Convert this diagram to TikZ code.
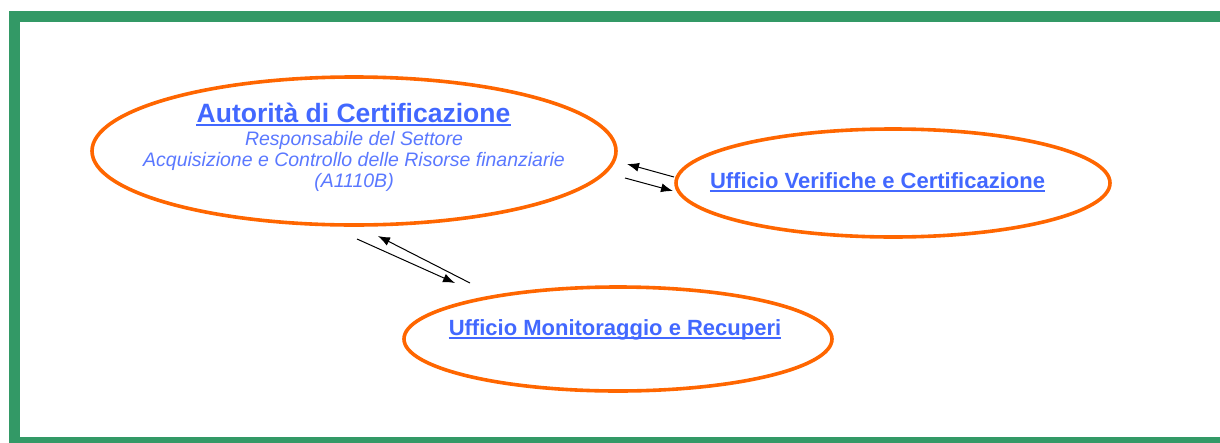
\documentclass[tikz,border=0pt]{standalone}
\usepackage{fontspec}
\setmainfont{Liberation Sans}
\usetikzlibrary{shapes.geometric,arrows.meta}
\definecolor{framegreen}{RGB}{51,153,102}
\definecolor{ora}{RGB}{255,102,0}
\definecolor{lnk}{RGB}{66,104,255}
\definecolor{sublnk}{RGB}{90,120,255}
\begin{document}
\begin{tikzpicture}[x=1pt,y=-1pt,
  oval/.style={ellipse, draw=ora, line width=3.6pt, inner sep=0pt},
  linktext/.style={text=lnk, font=\bfseries\fontsize{22}{26}\selectfont, inner sep=0pt, anchor=base},
  subtext/.style={text=sublnk, font=\itshape\fontsize{19.5}{21}\selectfont, inner sep=0pt, anchor=base},
  uline/.style={draw=lnk, line width=1.5pt},
  flow/.style={line width=1pt, -{Latex[length=12pt,width=9pt]}}]
\useasboundingbox (0,0) rectangle (1220,442);
\clip (0,0) rectangle (1220,442);
% frame
\draw[framegreen, line width=11pt] (14.5,16.5) -- (1240,16.5);
\draw[framegreen, line width=11pt] (14.5,11) -- (14.5,442.5) -- (1240,442.5);
% ellipses
\node[oval, minimum width=524pt, minimum height=148pt] (ac) at (354,151) {};
\node[oval, minimum width=434pt, minimum height=108pt] (uv) at (893,183) {};
\node[oval, minimum width=428pt, minimum height=104pt] (um) at (618,339) {};
% texts
\node[linktext, font=\bfseries\fontsize{26.5}{30}\selectfont] (t1) at (353.5,122) {Autorità di Certificazione};
\draw[uline, line width=1.8pt] ([yshift=-3pt]t1.base west) -- ([yshift=-3pt]t1.base east);
\node[subtext] (s1) at (354,145) {Responsabile del Settore};
\node[subtext] (s2) at (354,166) {Acquisizione e Controllo delle Risorse finanziarie};
\node[subtext] (s3) at (354,187) {(A1110B)};
\node[linktext] (t2) at (877.5,188) {Ufficio Verifiche e Certificazione};
\draw[uline] ([yshift=-3pt]t2.base west) -- ([yshift=-3pt]t2.base east);
\node[linktext] (t3) at (615,335) {Ufficio Monitoraggio e Recuperi};
\draw[uline] ([yshift=-3pt]t3.base west) -- ([yshift=-3pt]t3.base east);
% connector end points
\coordinate (a1s) at (674,177);
\coordinate (a1e) at (627,164);
\coordinate (a2s) at (625,178);
\coordinate (a2e) at (673,191);
\coordinate (b1s) at (357,239);
\coordinate (b1e) at (455,283);
\coordinate (b2s) at (470,283);
\coordinate (b2e) at (378,236);
\draw[flow] (a1s) -- (a1e);
\draw[flow] (a2s) -- (a2e);
\draw[flow] (b1s) -- (b1e);
\draw[flow] (b2s) -- (b2e);
\end{tikzpicture}
\end{document}
